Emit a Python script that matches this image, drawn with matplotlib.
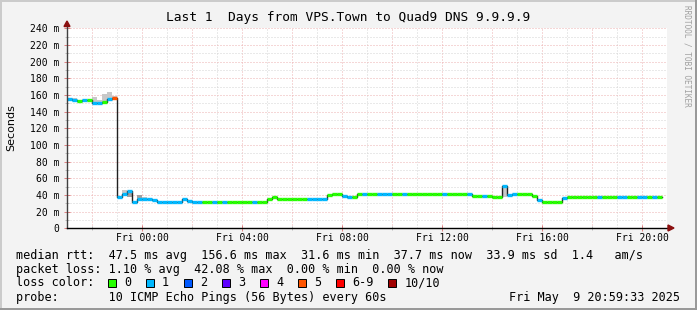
import numpy as np
import matplotlib
matplotlib.use("Agg")
import matplotlib.pyplot as plt
from matplotlib.patches import Rectangle, Polygon

# SmokePing style graph: 12 minute steps from Thu 21:00, values in ms
step_h = 0.2
median_ms = [
    154.8, 154.0, 152.4, 153.6, 154.3, 150.7, 150.7, 151.5, 154.8, 156.8,
    37.9, 40.8, 45.0, 31.6, 35.2, 35.5, 35.5, 34.0, 32.0, 32.0,
    32.0, 32.0, 32.0, 35.2, 32.4, 32.0, 32.0, 32.0, 32.0, 32.0,
    32.0, 32.0, 32.0, 32.0, 32.0, 32.0, 32.0, 32.0, 32.0, 32.0,
    34.8, 37.9, 35.6, 34.6, 34.6, 34.6, 34.6, 34.6, 34.8, 35.6,
    34.8, 34.8, 39.6, 41.4, 41.4, 39.2, 37.9, 37.9, 41.2, 41.2,
    41.2, 41.2, 41.2, 41.2, 41.2, 41.2, 41.2, 41.2, 41.2, 41.2,
    41.2, 41.2, 41.2, 41.2, 41.2, 41.2, 41.2, 41.2, 41.2, 41.2,
    41.2, 38.4, 38.4, 38.4, 38.4, 38.0, 38.0, 51.2, 39.6, 41.2,
    41.2, 41.2, 41.2, 38.8, 34.4, 31.6, 31.6, 31.6, 31.6, 36.4,
    37.9, 37.9, 37.9, 37.9, 37.9, 37.9, 37.9, 37.9, 37.9, 37.9,
    37.9, 37.9, 37.9, 37.9, 37.9, 37.9, 37.9, 37.9, 37.9,
]
loss_cat = [
    1, 1, 0, 1, 0, 1, 1, 0, 1, 5,
    1, 1, 1, 1, 1, 1, 1, 1, 1, 1,
    1, 1, 1, 1, 1, 1, 1, 0, 0, 1,
    0, 1, 0, 0, 0, 0, 0, 1, 0, 0,
    0, 0, 0, 0, 0, 0, 0, 0, 1, 1,
    1, 1, 0, 0, 0, 1, 1, 0, 0, 1,
    0, 0, 1, 1, 1, 0, 0, 1, 0, 0,
    0, 0, 0, 0, 0, 1, 0, 0, 0, 0,
    1, 0, 0, 1, 0, 0, 0, 1, 1, 1,
    0, 0, 0, 0, 1, 0, 0, 0, 0, 1,
    0, 0, 0, 0, 0, 0, 1, 0, 0, 0,
    1, 1, 0, 0, 1, 1, 0, 1, 0,
]
smoke_idx = [1, 5, 6, 7, 8, 9, 11, 12, 14, 15, 87]
smoke_lo = [153.0, 150.7, 150.7, 151.5, 154.8, 156.0, 40.0, 38.0, 35.0, 35.0, 38.0]
smoke_hi = [156.5, 157.0, 154.0, 161.0, 163.6, 159.0, 45.6, 45.0, 40.0, 37.0, 51.2]
smoke_dark = [0, 0, 0, 0, 0, 0, 0, 1, 1, 0, 0]

loss_labels = ["0", "1", "2", "3", "4", "5", "6-9", "10/10"]
loss_colors = ["#26ff00", "#00b8ff", "#0059ff", "#5e00ff", "#ff00ff",
               "#ff5500", "#ff0000", "#a00000"]

xtick_hours = [3, 7, 11, 15, 19, 23]
xtick_labels = ["Fri 00:00", "Fri 04:00", "Fri 08:00", "Fri 12:00", "Fri 16:00", "Fri 20:00"]
ytick_vals = list(range(0, 241, 20))
ytick_labels = ["0"] + ["%d m" % v for v in ytick_vals[1:]]

title = "Last 1  Days from VPS.Town to Quad9 DNS 9.9.9.9"
legend_rows = [
    "median rtt:  47.5 ms avg  156.6 ms max  31.6 ms min  37.7 ms now  33.9 ms sd  1.4   am/s",
    "packet loss: 1.10 % avg  42.08 % max  0.00 % min  0.00 % now",
]
probe_text = "probe:       10 ICMP Echo Pings (56 Bytes) every 60s"
stamp_text = "Fri May  9 20:59:33 2025"

W, H = 697, 310
MONO = "DejaVu Sans Mono"
fig = plt.figure(figsize=(W / 100, H / 100), dpi=100, facecolor="#F3F3F3")


def fx(x):
    return x / W


def fy(y):
    return 1 - y / H


# 3d-ish border
fig.patches.append(Rectangle((0, fy(2)), 1, 2 / H, transform=fig.transFigure, color="#CBCBCB", lw=0))
fig.patches.append(Rectangle((0, 0), 2 / W, 1, transform=fig.transFigure, color="#CBCBCB", lw=0))
fig.patches.append(Rectangle((0, 0), 1, 2 / H, transform=fig.transFigure, color="#999999", lw=0))
fig.patches.append(Rectangle((fx(W - 2), 0), 2 / W, 1, transform=fig.transFigure, color="#999999", lw=0))

ax = fig.add_axes([fx(67), fy(228.3), 600 / W, 200 / H])
ax.set_facecolor("white")
ax.set_xlim(0, 24)
ax.set_ylim(0, 240)
for s in ax.spines.values():
    s.set_visible(False)

# dotted grid, red for major, grey for minor
for h in range(1, 24):
    major = (21 + h) % 2 == 0
    ax.axvline(h, color="#EDB0B0" if major else "#D4D4D4", lw=0.72,
               ls=(0, (1, 2)), zorder=1)
for v in range(10, 250, 10):
    major = v % 20 == 0
    ax.axhline(v, color="#EDB0B0" if major else "#D4D4D4", lw=0.72,
               ls=(0, (1, 2)), zorder=1)

# smoke
t = np.arange(len(median_ms)) * step_h
med = np.array(median_ms)
si = np.array(smoke_idx)
lo = np.array(smoke_lo)
hi = np.array(smoke_hi)
ax.bar(t[si], hi - lo, bottom=lo, width=step_h, align="edge", lw=0,
       color=["#A0A0A0" if d else "#C8C8C8" for d in smoke_dark], zorder=2)

# median line: thin dark step plus loss-coloured segments
ax.step(np.append(t, t[-1] + step_h), np.append(med, med[-1]), where="post",
        color="#202020", lw=1.0, zorder=3)
ax.hlines(med, t, t + step_h, colors=[loss_colors[c] for c in loss_cat],
          lw=2.4, zorder=4)

# axes lines and arrows
ax.plot([0, 0], [0, 1.01], transform=ax.transAxes, color="#404040", lw=1.0,
        clip_on=False, zorder=5)
ax.plot([0, 1.005], [0, 0], transform=ax.transAxes, color="black", lw=1.0,
        clip_on=False, zorder=5)
fig.patches.append(Polygon([(fx(64), fy(26.5)), (fx(70), fy(26.5)), (fx(67), fy(21))],
                           closed=True, transform=fig.transFigure, color="#8B1010"))
fig.patches.append(Polygon([(fx(668), fy(225)), (fx(668), fy(231)), (fx(674), fy(228))],
                           closed=True, transform=fig.transFigure, color="#8B1010"))

# ticks
ax.set_xticks(xtick_hours)
ax.set_xticklabels(xtick_labels, family=MONO, fontsize=7.0)
ax.set_xticks([h for h in range(1, 24, 2) if h not in xtick_hours], minor=True)
ax.set_yticks(ytick_vals)
ax.set_yticklabels(ytick_labels, family=MONO, fontsize=7.0)
ax.set_yticks(range(10, 240, 20), minor=True)
ax.tick_params(axis="both", which="major", direction="inout", length=4,
               width=0.7, color="#E08080")
ax.tick_params(axis="both", which="minor", direction="inout", length=3,
               width=0.7, color="#BBBBBB")
ax.tick_params(axis="x", which="major", pad=1.5)
ax.tick_params(axis="y", which="major", pad=3.5)

# texts
fig.text(fx(348), fy(18), title, family=MONO, fontsize=9.3, ha="center", va="center")
fig.text(fx(11), fy(128), "Seconds", family="DejaVu Sans", fontsize=8,
         rotation=90, ha="center", va="center")
fig.text(fx(687), fy(5), "RRDTOOL / TOBI OETIKER", family=MONO, fontsize=5.6,
         color="#A0A0A0", rotation=270, ha="center", va="top")

row_y = [255, 269, 283, 297]
for y, s in zip(row_y, legend_rows):
    fig.text(fx(16), fy(y), s, family=MONO, fontsize=8.5, ha="left", va="center")
fig.text(fx(16), fy(row_y[2]), "loss color:", family=MONO, fontsize=8.5,
         ha="left", va="center")
bx = 108.0
for lab, col in zip(loss_labels, loss_colors):
    fig.patches.append(Rectangle((fx(bx), fy(row_y[2] + 4)), 8 / W, 8 / H,
                                 transform=fig.transFigure, facecolor=col,
                                 edgecolor="black", lw=0.7))
    fig.text(fx(bx + 16), fy(row_y[2]), lab, family=MONO, fontsize=8.5,
             ha="left", va="center")
    bx = bx + 16 + 7.1 * len(lab) + 14.9
fig.text(fx(16), fy(row_y[3]), probe_text, family=MONO, fontsize=8.5,
         ha="left", va="center")
fig.text(fx(680), fy(row_y[3]), stamp_text, family=MONO, fontsize=8.5,
         ha="right", va="center")

fig.savefig("out.png", dpi=100, facecolor=fig.get_facecolor())
